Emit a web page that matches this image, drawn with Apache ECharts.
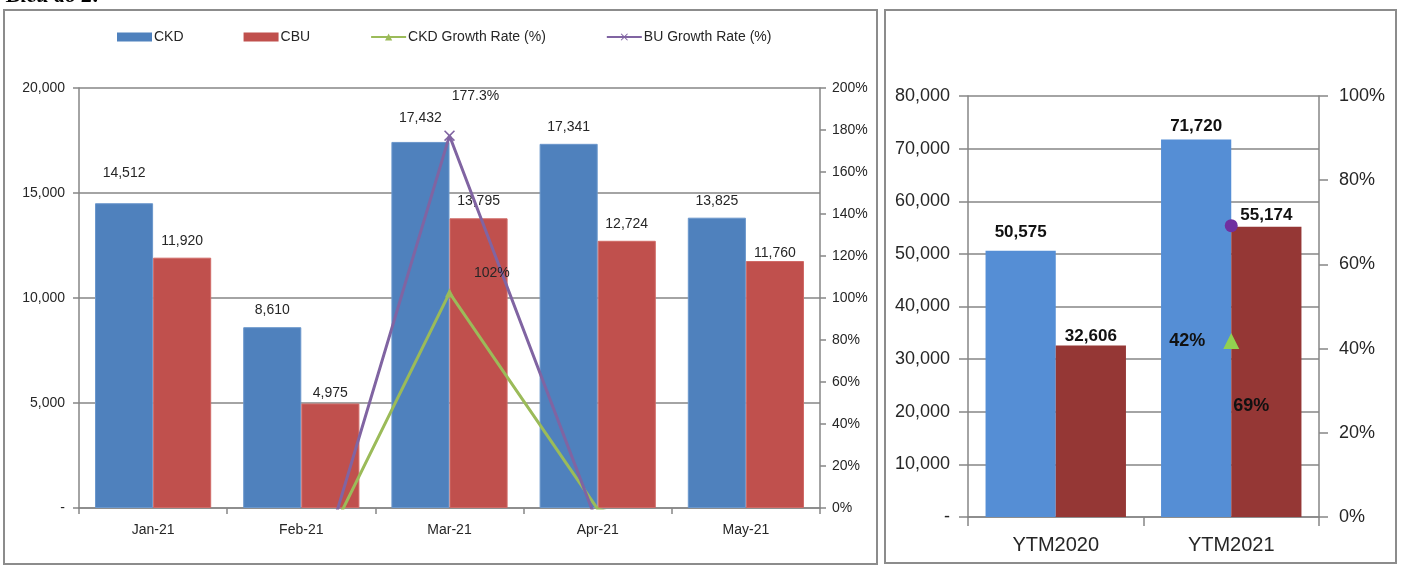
<!DOCTYPE html>
<html>
<head>
<meta charset="utf-8">
<script src="https://cdn.jsdelivr.net/npm/echarts@6/dist/echarts.min.js"></script>
<style>
html,body{margin:0;padding:0;background:#fff;}
#c{width:1402px;height:582px;}
</style>
</head>
<body>
<div id="c"></div>
<script>
// ---- data ----
const months = ['Jan-21', 'Feb-21', 'Mar-21', 'Apr-21', 'May-21'];
const ckd = [14512, 8610, 17432, 17341, 13825];
const cbu = [11920, 4975, 13795, 12724, 11760];
const ckdGrowth = [null, -40.7, 102.46, -0.5, -20.3];
const buGrowth = [null, -58.3, 177.29, -7.8, -7.6];

const ytmCats = ['YTM2020', 'YTM2021'];
const ytmCkd = [50575, 71720];
const ytmCbu = [32606, 55174];
const ytmCkdGrowth = [null, 41.8];
const ytmBuGrowth = [null, 69.2];

const leftTicksMax = 20000, leftTicksStep = 5000;
const pctMax = 200, pctStep = 20;
const rightTicksMax = 80000, rightTicksStep = 10000;
const pct2Max = 100, pct2Step = 20;

// ---- label position tweaks (style only) ----
const ckdLabelDy = [-13, 0, -7, 0, 0];
const cbuLabelDy = [0, 7, 0, 0, 9];
const ytmCkdLabelDy = [-5, 0];
const ytmCbuLabelDy = [2, 0];

// ---- chart ----
const chart = echarts.init(document.getElementById('c'), null, {renderer: 'canvas'});
const FONT = 'Liberation Sans';
const gray = '#868686';
const txt = '#262626';
const fmtNum = v => v === 0 ? '-' : v.toLocaleString('en-US');

const axisLine = {show: true, lineStyle: {color: gray, width: 1.5}};
const axisTick = len => ({show: true, inside: false, length: len, lineStyle: {color: gray, width: 1.5}});

function withOffsets(values, dys) {
  return values.map((v, i) => ({value: v, label: {offset: [0, dys[i] || 0]}}));
}

function lineLabelOnly(idx, fmt, extra) {
  return Object.assign({
    show: true,
    formatter: p => (p.dataIndex === idx ? fmt(p.value) : ''),
    fontFamily: FONT, fontSize: 14, color: txt
  }, extra);
}

const option = {
  animation: false,
  textStyle: {fontFamily: FONT},
  graphic: [
    {type: 'text', left: 6, top: -15, style: {text: 'Biểu đồ 2:', font: 'italic bold 22px "Liberation Serif"', fill: '#000'}},
    {type: 'rect', shape: {x: 4, y: 10, width: 873, height: 554}, style: {fill: 'none', stroke: '#8c8c8c', lineWidth: 2}},
    {type: 'rect', shape: {x: 885, y: 10, width: 511, height: 553}, style: {fill: 'none', stroke: '#8c8c8c', lineWidth: 2}}
  ],
  legend: {
    left: 112, top: 25,
    itemWidth: 35, itemHeight: 9, itemGap: 60,
    itemStyle: {borderWidth: 0},
    textStyle: {fontFamily: FONT, fontSize: 14, color: txt, padding: [0, 0, 0, -3]},
    data: [
      {name: 'CKD', icon: 'rect'},
      {name: 'CBU', icon: 'rect'},
      {name: 'CKD Growth Rate (%)'},
      {name: 'BU Growth Rate (%)'}
    ]
  },
  grid: [
    {left: 79, top: 88, width: 741, height: 420},
    {left: 968, top: 96, width: 351, height: 421}
  ],
  xAxis: [
    {type: 'category', gridIndex: 0, data: months, axisLine, axisTick: axisTick(6),
     axisLabel: {fontFamily: FONT, fontSize: 14, color: txt, margin: 15}},
    {type: 'category', gridIndex: 1, data: ytmCats, axisLine, axisTick: axisTick(9),
     axisLabel: {fontFamily: FONT, fontSize: 20, color: txt, margin: 18}}
  ],
  yAxis: [
    {type: 'value', gridIndex: 0, min: 0, max: leftTicksMax, interval: leftTicksStep,
     axisLine, axisTick: axisTick(6),
     splitLine: {show: true, lineStyle: {color: gray, width: 1.5}},
     axisLabel: {formatter: fmtNum, fontFamily: FONT, fontSize: 14, color: txt, margin: 14}},
    {type: 'value', gridIndex: 0, position: 'right', min: 0, max: pctMax, interval: pctStep,
     axisLine, axisTick: axisTick(6), splitLine: {show: false},
     axisLabel: {formatter: v => v + '%', fontFamily: FONT, fontSize: 14, color: txt, margin: 12}},
    {type: 'value', gridIndex: 1, min: 0, max: rightTicksMax, interval: rightTicksStep,
     axisLine, axisTick: axisTick(9),
     splitLine: {show: true, lineStyle: {color: gray, width: 1.5}},
     axisLabel: {formatter: fmtNum, fontFamily: FONT, fontSize: 18, color: txt, margin: 18}},
    {type: 'value', gridIndex: 1, position: 'right', min: 0, max: pct2Max, interval: pct2Step,
     axisLine, axisTick: axisTick(9), splitLine: {show: false},
     axisLabel: {formatter: v => v + '%', fontFamily: FONT, fontSize: 18, color: txt, margin: 20}}
  ],
  series: [
    {name: 'CKD', type: 'bar', xAxisIndex: 0, yAxisIndex: 0, data: withOffsets(ckd, ckdLabelDy),
     barGap: '0%', barCategoryGap: '21.6%', itemStyle: {color: '#4F81BD', borderColor: '#6b97cc', borderWidth: 1},
     label: {show: true, position: 'top', distance: 10, formatter: p => fmtNum(p.value),
             fontFamily: FONT, fontSize: 14, color: txt}},
    {name: 'CBU', type: 'bar', xAxisIndex: 0, yAxisIndex: 0, data: withOffsets(cbu, cbuLabelDy),
     barGap: '0%', barCategoryGap: '21.6%', itemStyle: {color: '#C0504D', borderColor: '#d06a67', borderWidth: 1},
     label: {show: true, position: 'top', distance: 10, formatter: p => fmtNum(p.value),
             fontFamily: FONT, fontSize: 14, color: txt}},
    {name: 'CKD Growth Rate (%)', type: 'line', xAxisIndex: 0, yAxisIndex: 1, data: ckdGrowth,
     clip: true, symbol: 'triangle', symbolSize: 9, showAllSymbol: true,
     lineStyle: {color: '#9BBB59', width: 3}, itemStyle: {color: '#9BBB59'},
     label: lineLabelOnly(2, v => Math.round(v) + '%', {position: 'right', offset: [15, -20]})},
    {name: 'BU Growth Rate (%)', type: 'line', xAxisIndex: 0, yAxisIndex: 1, data: buGrowth,
     clip: true, symbol: 'path://M0,1 L1,0 L5,4 L9,0 L10,1 L6,5 L10,9 L9,10 L5,6 L1,10 L0,9 L4,5 Z', symbolSize: 11,
     showAllSymbol: true,
     lineStyle: {color: '#8064A2', width: 3}, itemStyle: {color: '#8064A2'},
     label: lineLabelOnly(2, v => v.toFixed(1) + '%', {position: 'top', offset: [26, -22]})},
    {name: 'CKD YTM', type: 'bar', xAxisIndex: 1, yAxisIndex: 2, data: withOffsets(ytmCkd, ytmCkdLabelDy),
     barGap: '0%', barCategoryGap: '20%', itemStyle: {color: '#558ED5'},
     label: {show: true, position: 'top', distance: 5, formatter: p => fmtNum(p.value),
             fontFamily: FONT, fontSize: 17, fontWeight: 'bold', color: '#111'}},
    {name: 'CBU YTM', type: 'bar', xAxisIndex: 1, yAxisIndex: 2, data: withOffsets(ytmCbu, ytmCbuLabelDy),
     barGap: '0%', barCategoryGap: '20%', itemStyle: {color: '#953735'},
     label: {show: true, position: 'top', distance: 3, formatter: p => fmtNum(p.value),
             fontFamily: FONT, fontSize: 17, fontWeight: 'bold', color: '#111'}},
    {name: 'CKD Growth YTM', type: 'line', xAxisIndex: 1, yAxisIndex: 3, data: ytmCkdGrowth,
     symbol: 'triangle', symbolSize: 16, lineStyle: {width: 0}, itemStyle: {color: '#92D050'},
     label: {show: true, position: 'left', distance: 18, formatter: p => Math.round(p.value) + '%',
             fontFamily: FONT, fontSize: 18, fontWeight: 'bold', color: '#111'}},
    {name: 'BU Growth YTM', type: 'line', xAxisIndex: 1, yAxisIndex: 3, data: ytmBuGrowth,
     symbol: 'circle', symbolSize: 13, lineStyle: {width: 0}, itemStyle: {color: '#7030A0'},
     label: {show: true, position: 'inside', offset: [20, 180], formatter: p => Math.round(p.value) + '%',
             fontFamily: FONT, fontSize: 18, fontWeight: 'bold', color: '#111'}}
  ]
};
chart.setOption(option);
</script>
</body>
</html>
